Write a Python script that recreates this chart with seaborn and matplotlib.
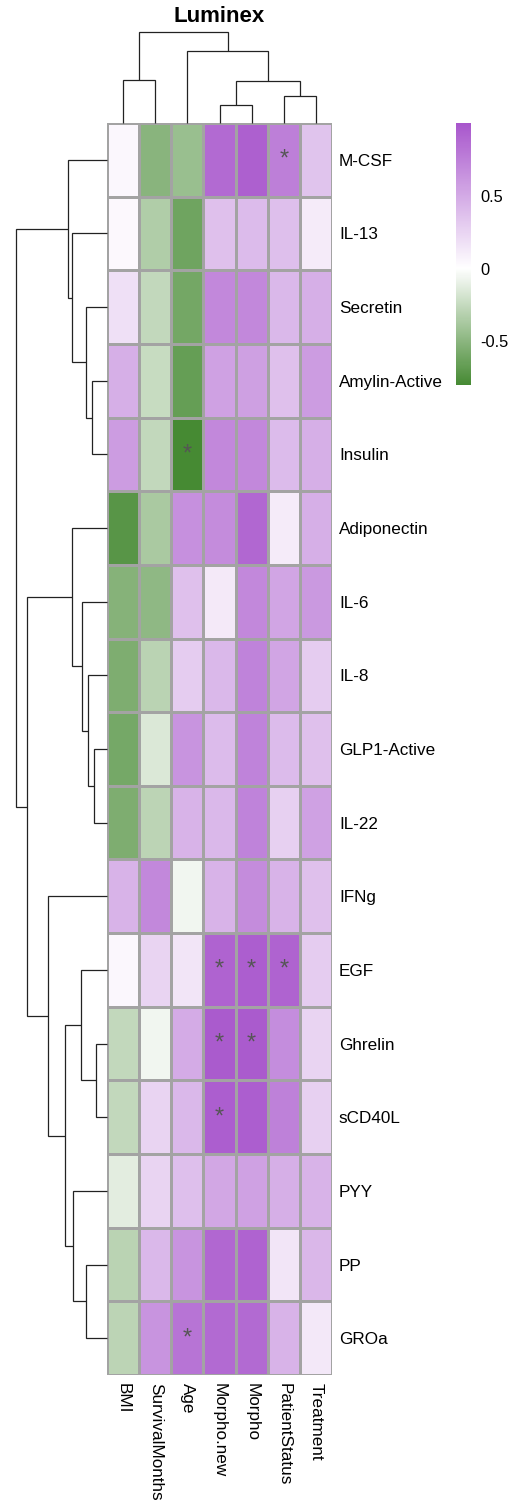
import numpy as np
import pandas as pd
import matplotlib
matplotlib.use("Agg")
import matplotlib.pyplot as plt
from matplotlib.colors import LinearSegmentedColormap
import seaborn as sns

# ---- data -------------------------------------------------------------
analytes = ["M-CSF", "IL-13", "Secretin", "Amylin-Active", "Insulin",
            "Adiponectin", "IL-6", "IL-8", "GLP1-Active", "IL-22", "IFNg",
            "EGF", "Ghrelin", "sCD40L", "PYY", "PP", "GROa"]
clinical = ["BMI", "SurvivalMonths", "Age", "Morpho.new", "Morpho",
            "PatientStatus", "Treatment"]

corr_bmi       = [0.05, 0.04, 0.18, 0.47, 0.58, -0.72, -0.52, -0.56, -0.59,
                  -0.56, 0.45, 0.05, -0.26, -0.26, -0.12, -0.30, -0.29]
corr_survival  = [-0.51, -0.34, -0.26, -0.24, -0.26, -0.37, -0.48, -0.30,
                  -0.16, -0.29, 0.70, 0.25, -0.06, 0.25, 0.25, 0.42, 0.63]
corr_age       = [-0.44, -0.62, -0.60, -0.66, -0.80, 0.65, 0.37, 0.30, 0.63,
                  0.45, -0.06, 0.15, 0.50, 0.42, 0.38, 0.63, 0.82]
corr_morphonew = [0.88, 0.37, 0.70, 0.55, 0.70, 0.68, 0.13, 0.42, 0.40, 0.42,
                  0.45, 0.92, 0.97, 0.95, 0.52, 0.90, 0.88]
corr_morpho    = [0.94, 0.40, 0.70, 0.56, 0.70, 0.90, 0.70, 0.73, 0.73, 0.73,
                  0.68, 0.95, 0.97, 0.95, 0.55, 0.92, 0.88]
corr_status    = [0.76, 0.38, 0.42, 0.37, 0.40, 0.12, 0.53, 0.53, 0.40, 0.28,
                  0.45, 0.92, 0.67, 0.74, 0.47, 0.15, 0.45]
corr_treatment = [0.35, 0.12, 0.47, 0.58, 0.47, 0.47, 0.60, 0.30, 0.37, 0.55,
                  0.37, 0.30, 0.25, 0.28, 0.45, 0.43, 0.14]

# significant correlations (row, column)
significant = [("M-CSF", "PatientStatus"), ("Insulin", "Age"),
               ("EGF", "Morpho.new"), ("EGF", "Morpho"), ("EGF", "PatientStatus"),
               ("Ghrelin", "Morpho.new"), ("Ghrelin", "Morpho"),
               ("sCD40L", "Morpho.new"), ("GROa", "Age")]

# hierarchical clustering merges: (child a, child b, height); new nodes get n, n+1, ...
col_merges = [(3, 4, 18), (5, 6, 27), (7, 8, 42), (0, 1, 43), (2, 9, 72),
              (10, 11, 91)]
row_merges = [(3, 4, 15), (2, 17, 21), (1, 18, 35), (0, 19, 39), (8, 9, 13),
              (7, 21, 19), (6, 22, 25), (5, 23, 35), (12, 13, 11), (11, 25, 26),
              (15, 16, 21), (14, 27, 34), (26, 28, 42), (10, 29, 59),
              (24, 30, 80), (20, 31, 91)]

vmin, vmax = -0.8, 1.0
cbar_ticks = [0.5, 0, -0.5]

# ---- figure -----------------------------------------------------------
sns.set_style("white")
plt.rcParams["font.family"] = ["Liberation Sans", "DejaVu Sans"]
plt.rcParams["text.color"] = "black"
plt.rcParams["xtick.color"] = "black"
plt.rcParams["ytick.color"] = "black"

df = pd.DataFrame({c: v for c, v in zip(clinical, [
    corr_bmi, corr_survival, corr_age, corr_morphonew, corr_morpho,
    corr_status, corr_treatment])}, index=analytes)

stars = pd.DataFrame("", index=analytes, columns=clinical)
for r, c in significant:
    stars.loc[r, c] = "*"

zero = -vmin / (vmax - vmin)
cmap = LinearSegmentedColormap.from_list(
    "gwp", [(0.0, "#468A33"), (zero, "#FFFFFF"), (1.0, "#A856CC")], N=256)

W, H = 509, 1502
fig = plt.figure(figsize=(W / 100, H / 100), dpi=100)


def frac_axes(x0, y0, x1, y1):
    return fig.add_axes([x0 / W, 1 - y1 / H, (x1 - x0) / W, (y1 - y0) / H])


hm_l, hm_r, hm_t, hm_b = 107, 332, 123, 1375
ax_hm = frac_axes(hm_l, hm_t, hm_r, hm_b)
ax_col = frac_axes(hm_l, 32, hm_r, hm_t)
ax_row = frac_axes(16, hm_t, hm_l, hm_b)
ax_cb = frac_axes(456, 123, 471, 385)

sns.heatmap(df, ax=ax_hm, cmap=cmap, vmin=vmin, vmax=vmax,
            linewidths=0.8, linecolor="#A3A3A3",
            annot=stars, fmt="", annot_kws={"size": 17, "color": "#555555"},
            cbar_ax=ax_cb, cbar_kws={"ticks": cbar_ticks})

ax_hm.yaxis.tick_right()
ax_hm.set_yticklabels(analytes, rotation=0, fontsize=12.3, color="black")
ax_hm.set_xticklabels(clinical, rotation=270, fontsize=12.3, va="top",
                      ha="center", color="black")
ax_hm.tick_params(axis="both", length=0)
ax_hm.tick_params(axis="y", pad=5)
ax_hm.tick_params(axis="x", pad=6)
ax_hm.set_xlabel("")
ax_hm.set_ylabel("")
for sp in ax_hm.spines.values():
    sp.set_visible(False)

cb = ax_hm.collections[0].colorbar
cb.outline.set_visible(False)
cb.set_ticks(cbar_ticks)
cb.set_ticklabels(["0.5", "0", "-0.5"])
cb.ax.tick_params(length=0, labelsize=11.8, pad=7, labelcolor="black")


def draw_dendrogram(ax, merges, n, side):
    pos = [i + 0.5 for i in range(n)]
    hgt = [0.0] * n
    for a, b, h in merges:
        pa, pb, ha, hb = pos[a], pos[b], hgt[a], hgt[b]
        if side == "top":
            xs, ys = [pa, pa, pb, pb], [ha, h, h, hb]
        else:
            xs, ys = [ha, h, h, hb], [pa, pa, pb, pb]
        ax.plot(xs, ys, color="#222222", lw=0.9, solid_capstyle="butt",
                solid_joinstyle="miter", clip_on=False)
        pos.append((pa + pb) / 2)
        hgt.append(h)
    top = max(m[2] for m in merges)
    if side == "top":
        ax.set_xlim(0, n)
        ax.set_ylim(0, top)
    else:
        ax.set_ylim(n, 0)
        ax.set_xlim(top, 0)
    ax.axis("off")


draw_dendrogram(ax_col, col_merges, len(clinical), "top")
draw_dendrogram(ax_row, row_merges, len(analytes), "left")

fig.text((hm_l + hm_r) / 2 / W, 1 - 16 / H, "Luminex", ha="center", va="center",
         fontsize=16, fontweight="bold", color="black")

fig.savefig("out.png", dpi=100)
